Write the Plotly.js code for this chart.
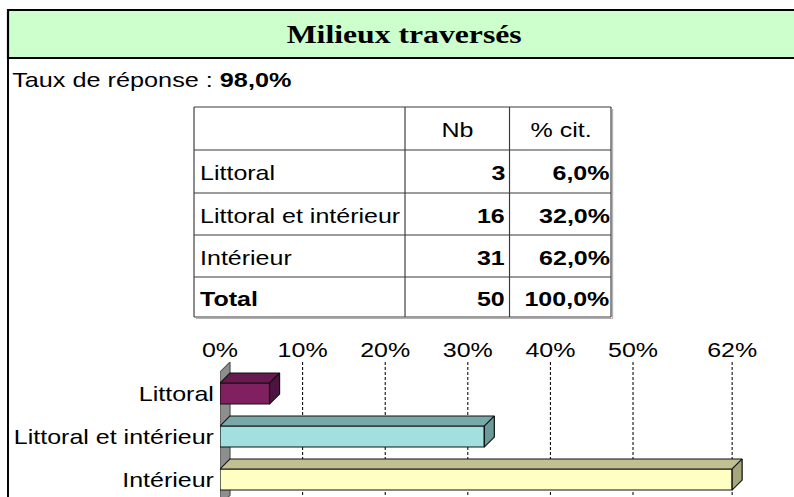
<!DOCTYPE html>
<html>
<head>
<meta charset="utf-8">
<script src="https://cdn.plot.ly/plotly-3.0.1.min.js"></script>
<style>
  body { margin: 0; overflow: hidden; background: #fff; }
  /* the source picture is stretched sideways, so draw narrower and widen */
  #chart { width: 651px; height: 497px; transform: scaleX(1.2197); transform-origin: 0 0; }
</style>
</head>
<body>
<div id="chart"></div>
<script>
// data
const categories = ["Littoral", "Littoral et intérieur", "Intérieur"];
const counts = [3, 16, 31];
const percents = [6.0, 32.0, 62.0];
const responseRate = 98.0;
const tableHeader = ["", "Nb", "% cit."];
const tickVals = [0, 10, 20, 30, 40, 50, 62];
const tickText = tickVals.map((v) => v + "%");

const frontColors = ["#802060", "#a2e0e0", "#ffffc4"];
const topColors = ["#661a4d", "#78a8a8", "#c0c090"];
const sideColors = ["#4e1340", "#6a9a9a", "#a6a67c"];

const W = 651;
const H = 497;
const S = 794 / W;
const FONT = "Liberation Sans, Arial, sans-serif";

// final pixel -> paper fraction
const px = (X) => X / S / W;
const py = (Y) => 1 - Y / H;

function fmtPct(v) {
  return v.toFixed(1).replace(".", ",") + "%";
}

const total = counts.reduce((a, b) => a + b, 0);
const totalPct = percents.reduce((a, b) => a + b, 0);

/* ---------- table (lines + text) ---------- */

const rowLines = [107, 150, 193, 235, 277, 317];
const colLines = [194, 405, 509.5, 611];
const lineCol = "#3a3a3a";

const shapes = [];
const annotations = [];

rowLines.forEach((Y) => {
  shapes.push({
    type: "line", xref: "paper", yref: "paper",
    x0: px(colLines[0]), x1: px(colLines[3]), y0: py(Y), y1: py(Y),
    line: { color: lineCol, width: 1.1 },
  });
});
colLines.forEach((X) => {
  shapes.push({
    type: "line", xref: "paper", yref: "paper",
    x0: px(X), x1: px(X), y0: py(rowLines[0]), y1: py(rowLines[5]),
    line: { color: lineCol, width: 0.95 },
  });
});
// light shadow on right and bottom
shapes.push({
  type: "line", xref: "paper", yref: "paper",
  x0: px(612.6), x1: px(612.6), y0: py(rowLines[0] + 2), y1: py(rowLines[5] + 1.5),
  line: { color: "#b0b0b0", width: 0.9 },
});
shapes.push({
  type: "line", xref: "paper", yref: "paper",
  x0: px(colLines[0] + 2), x1: px(612.6), y0: py(rowLines[5] + 1.5), y1: py(rowLines[5] + 1.5),
  line: { color: "#b0b0b0", width: 1 },
});

function cellText(text, X, Y, anchor) {
  annotations.push({
    xref: "paper", yref: "paper",
    x: px(X), y: py(Y), xanchor: anchor, yanchor: "middle",
    text, showarrow: false, borderpad: 0, borderwidth: 0,
    font: { family: FONT, size: 20.5, color: "#000" },
  });
}

const headY = (rowLines[0] + rowLines[1]) / 2 + 1;
cellText(tableHeader[1], (colLines[1] + colLines[2]) / 2, headY, "center");
cellText(tableHeader[2], (colLines[2] + colLines[3]) / 2 + 1, headY, "center");

const rowLabels = categories.concat(["<b>Total</b>"]);
const rowCounts = counts.concat([total]);
const rowPcts = percents.concat([totalPct]);
rowLabels.forEach((label, i) => {
  const Y = (rowLines[i + 1] + rowLines[i + 2]) / 2 + 1.5;
  cellText(label, colLines[0] + 6, Y, "left");
  cellText(`<b>${rowCounts[i]}</b>`, colLines[2] - 4, Y, "right");
  cellText(`<b>${fmtPct(rowPcts[i])}</b>`, colLines[3] - 1.5, Y, "right");
});

/* ---------- 3d bars ---------- */

const half = 0.245; // half bar thickness, in category units
const dx = 1.21; // depth, in % units
const dy = 0.233; // depth, in category units
const yIdx = categories.map((c, i) => i);

const barTrace = {
  type: "bar",
  orientation: "h",
  x: percents,
  y: yIdx,
  width: half * 2,
  marker: { color: frontColors, line: { color: "#111", width: 1 } },
  hoverinfo: "skip",
};

const faceTraces = [];
percents.forEach((v, i) => {
  faceTraces.push({
    type: "scatter",
    mode: "lines",
    x: [0, v, v + dx, dx, 0],
    y: [i - half, i - half, i - half - dy, i - half - dy, i - half],
    fill: "toself",
    fillcolor: topColors[i],
    line: { color: "#111", width: 1 },
    hoverinfo: "skip",
  });
  faceTraces.push({
    type: "scatter",
    mode: "lines",
    x: [v, v + dx, v + dx, v, v],
    y: [i - half, i - half - dy, i + half - dy, i + half, i - half],
    fill: "toself",
    fillcolor: sideColors[i],
    line: { color: "#111", width: 1 },
    hoverinfo: "skip",
  });
});

/* ---------- frame, title ---------- */

shapes.push(
  // green title band
  {
    type: "rect", xref: "paper", yref: "paper",
    x0: px(8), x1: 1.02, y0: py(58), y1: py(10),
    fillcolor: "#ccffcc", line: { color: "#000", width: 1.8 },
  },
  // left frame line
  {
    type: "line", xref: "paper", yref: "paper",
    x0: px(8), x1: px(8), y0: py(10), y1: -0.02,
    line: { color: "#000", width: 1.6 },
  },
  // grey floor wall at 0%
  {
    type: "path", xref: "x", yref: "y", layer: "between",
    path: `M 0 -0.5 L ${dx} ${-0.5 - dy} L ${dx} ${2.6 - dy} L 0 2.6 Z`,
    fillcolor: "#8e8e8e", line: { color: "#555", width: 1 },
  }
);

annotations.push(
  {
    xref: "paper", yref: "paper",
    x: px(404), y: py(34), xanchor: "center", yanchor: "middle",
    text: "<b>Milieux traversés</b>",
    showarrow: false,
    font: { family: "Liberation Serif, Times New Roman, serif", size: 26, color: "#000" },
  },
  {
    xref: "paper", yref: "paper",
    x: px(12), y: py(80), xanchor: "left", yanchor: "middle",
    text: `Taux de réponse : <b>${fmtPct(responseRate)}</b>`,
    showarrow: false, borderpad: 0, borderwidth: 0,
    font: { family: FONT, size: 20.7, color: "#000" },
  }
);

const layout = {
  width: W,
  height: H,
  margin: { t: 0, r: 0, b: 0, l: 0 },
  paper_bgcolor: "#fff",
  plot_bgcolor: "rgba(0,0,0,0)",
  showlegend: false,
  hovermode: false,
  font: { family: FONT, color: "#000" },
  xaxis: {
    domain: [px(220), px(220 + 65 * 8.26)],
    range: [0, 65],
    side: "top",
    tickmode: "array",
    tickvals: tickVals,
    ticktext: tickText,
    tickfont: { size: 20.5, color: "#000" },
    ticks: "",
    showline: false,
    zeroline: false,
    showgrid: true,
    gridcolor: "#000",
    gridwidth: 0.85,
    griddash: "3px,2px",
  },
  yaxis: {
    domain: [0, py(362)],
    range: [2.407, -0.733],
    tickmode: "array",
    tickvals: yIdx,
    ticktext: categories,
    tickfont: { size: 20.5, color: "#000" },
    ticks: "",
    ticklabelstandoff: 4,
    showline: false,
    zeroline: false,
    showgrid: false,
  },
  shapes,
  annotations,
};

Plotly.newPlot("chart", [barTrace].concat(faceTraces), layout, {
  displayModeBar: false,
  staticPlot: true,
});
</script>
</body>
</html>
